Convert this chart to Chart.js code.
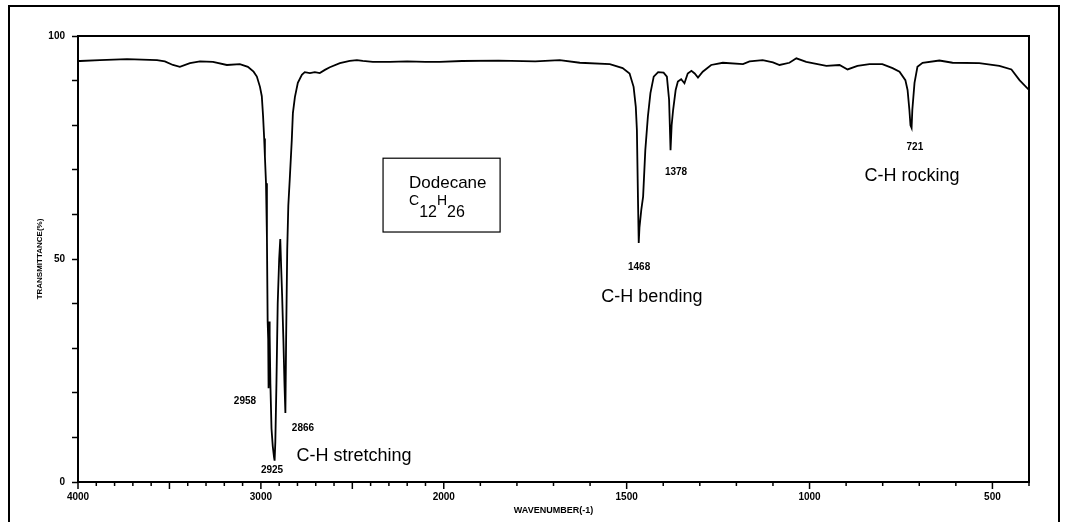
<!DOCTYPE html>
<html>
<head>
<meta charset="utf-8">
<script src="https://cdn.jsdelivr.net/npm/chart.js@4.4.1/dist/chart.umd.min.js"></script>
<style>
  body { margin: 0; background: #fff; }
  #wrap { position: relative; width: 1067px; height: 522px; overflow: hidden; }
  #myChart { display: block; }
  #frame { position: absolute; left: 8px; top: 5px; width: 1052px; height: 540px; border: 2px solid #000; box-sizing: border-box; pointer-events: none; }
</style>
</head>
<body>
<div id="wrap">
  <canvas id="myChart" width="1067" height="522"></canvas>
  <div id="frame"></div>
</div>
<script>
// IR spectrum of dodecane
const wavenumber = [
  4000, 3989, 3880, 3732, 3568, 3525, 3481, 3443, 3388, 3333, 3262, 3186, 3115, 3071, 3040, 3022,
  3005, 2995, 2988, 2982, 2978, 2972, 2967, 2963, 2960, 2958, 2955, 2952, 2948, 2942, 2935, 2928,
  2925, 2921, 2915, 2908, 2900, 2894, 2889, 2884, 2877, 2871, 2866, 2862, 2856, 2850, 2842, 2831,
  2825, 2814, 2798, 2776, 2760, 2732, 2705, 2678, 2650, 2623, 2568, 2514, 2475, 2443, 2388, 2295,
  2200, 2100, 2022, 1950, 1850, 1750, 1683, 1628, 1546, 1511, 1492, 1481, 1475, 1472, 1469, 1467,
  1465, 1460, 1455, 1449, 1442, 1435, 1426, 1414, 1399, 1390, 1384, 1380, 1377, 1373, 1366, 1360,
  1351, 1342, 1333, 1323, 1314, 1305, 1292, 1269, 1237, 1182, 1164, 1128, 1100, 1082, 1055, 1036,
  1009, 992, 954, 918, 896, 869, 836, 801, 773, 754, 738, 732, 727, 724, 721, 719,
  713, 705, 691, 645, 609, 536, 481, 448, 426, 400
];
const transmittance = [
  94.4, 94.4, 94.6, 94.8, 94.6, 94.3, 93.5, 93.1, 93.9, 94.3, 94.2, 93.5, 93.7, 93.1, 92.0, 90.9,
  88.6, 86.5, 82.0, 77.0, 73.0, 67.0, 55.0, 36.0, 32.0, 21.0, 36.0, 33.0, 22.0, 12.0, 8.0, 5.5,
  4.8, 9.0, 22.0, 40.0, 50.0, 54.5, 48.0, 42.0, 32.0, 22.0, 15.5, 32.0, 52.0, 62.0, 68.0, 76.7,
  82.7, 86.3, 89.5, 91.3, 91.9, 91.7, 91.9, 91.7, 92.4, 93.0, 93.9, 94.4, 94.6, 94.4, 94.2, 94.2,
  94.3, 94.2, 94.2, 94.4, 94.5, 94.3, 94.6, 94.0, 93.7, 92.8, 91.6, 88.6, 84.1, 78.9, 63.2, 53.6,
  57.0, 61.0, 64.0, 74.4, 81.9, 87.2, 90.9, 91.9, 91.8, 90.9, 85.7, 74.4, 80.0, 83.4, 87.9, 89.8,
  90.3, 89.4, 91.6, 92.2, 91.6, 90.7, 92.0, 93.5, 94.0, 93.7, 94.3, 94.6, 94.1, 93.5, 94.0, 95.0,
  94.2, 93.9, 93.3, 93.5, 92.5, 93.3, 93.7, 93.7, 92.8, 92.0, 90.1, 87.9, 83.4, 80.0, 79.4, 83.4,
  89.5, 93.1, 94.0, 94.5, 94.0, 93.9, 93.3, 92.5, 90.1, 87.9
];
const xLabelValues = [4000, 3000, 2000, 1500, 1000, 500];
const yLabelValues = [0, 50, 100];

// peak numbers and band names, placed in (wavenumber, %T)
const peakLabels = [
  { text: '2958', w: 3087, t: 18.2 },
  { text: '2866', w: 2770, t: 12.1 },
  { text: '2925', w: 2939, t: 2.7 },
  { text: '1468', w: 1466, t: 48.2 },
  { text: '1378', w: 1365, t: 69.5 },
  { text: '721', w: 712, t: 75.1 }
];
const bandLabels = [
  { text: 'C-H stretching', w: 2491, t: 5.8 },
  { text: 'C-H bending', w: 1431, t: 41.5 },
  { text: 'C-H rocking', w: 720, t: 68.6 }
];

// axis is compressed 2:1 above 2000 cm-1
const X_MAX = 4000, X_BREAK = 2000, X_MIN = 400;
function toSpan(v) {
  return v >= X_BREAK ? (X_MAX - v) / 2 : (X_MAX - X_BREAK) / 2 + (X_BREAK - v);
}
const SPAN = toSpan(X_MIN);

class WaveScale extends Chart.LinearScale {
  getPixelForValue(v) {
    return this.getPixelForDecimal(toSpan(v) / SPAN);
  }
  getValueForPixel(p) {
    const s = this.getDecimalForPixel(p) * SPAN;
    const half = (X_MAX - X_BREAK) / 2;
    return s <= half ? X_MAX - 2 * s : X_BREAK - (s - half);
  }
}
WaveScale.id = 'wave';
WaveScale.defaults = Chart.LinearScale.defaults;
Chart.register(WaveScale);

const smallFont = 'bold 10px "Liberation Sans"';

const irDecor = {
  id: 'irDecor',
  afterDraw(chart) {
    const { ctx, chartArea: a, scales: { x, y } } = chart;
    ctx.save();
    ctx.strokeStyle = '#000';
    ctx.fillStyle = '#000';
    ctx.lineWidth = 2;
    ctx.strokeRect(a.left, a.top, a.right - a.left, a.bottom - a.top);

    ctx.lineWidth = 1.5;
    x.ticks.forEach(t => {
      const px = x.getPixelForValue(t.value);
      const len = t.value % 500 === 0 ? 7 : 4;
      ctx.beginPath();
      ctx.moveTo(px, a.bottom);
      ctx.lineTo(px, a.bottom + len);
      ctx.stroke();
    });

    ctx.textAlign = 'center';
    ctx.textBaseline = 'middle';
    ctx.font = smallFont;
    peakLabels.forEach(l => ctx.fillText(l.text, x.getPixelForValue(l.w), y.getPixelForValue(l.t)));
    ctx.font = '18px "Liberation Sans"';
    bandLabels.forEach(l => ctx.fillText(l.text, x.getPixelForValue(l.w), y.getPixelForValue(l.t)));

    // compound box
    const bx0 = x.getPixelForValue(2332), bx1 = x.getPixelForValue(1846);
    const by0 = y.getPixelForValue(72.6), by1 = y.getPixelForValue(56.05);
    ctx.lineWidth = 1.2;
    ctx.strokeRect(bx0, by0, bx1 - bx0, by1 - by0);
    ctx.textAlign = 'left';
    ctx.textBaseline = 'alphabetic';
    const tx = x.getPixelForValue(2190);
    ctx.font = '17px "Liberation Sans"';
    ctx.fillText('Dodecane', tx, y.getPixelForValue(65.9));
    const base = y.getPixelForValue(62.0), sub = y.getPixelForValue(59.4);
    let cx = tx;
    [['C', base, 14], ['12', sub, 16], ['H', base, 14], ['26', sub, 16]].forEach(([s, by, fs]) => {
      ctx.font = fs + 'px "Liberation Sans"';
      ctx.fillText(s, cx, by);
      cx += ctx.measureText(s).width;
    });
    ctx.restore();
  }
};

const ctx = document.getElementById('myChart');

new Chart(ctx, {
  type: 'line',
  data: {
    datasets: [{
      data: wavenumber.map((w, i) => ({ x: w, y: transmittance[i] })),
      borderColor: '#000',
      borderWidth: 1.8,
      pointRadius: 0,
      tension: 0,
      fill: false
    }]
  },
  options: {
    responsive: false,
    animation: false,
    devicePixelRatio: 1,
    layout: { padding: { left: 30, right: 38, top: 36, bottom: 0 } },
    plugins: { legend: { display: false }, tooltip: { enabled: false } },
    scales: {
      x: {
        type: 'wave',
        min: X_MIN,
        max: X_MAX,
        afterFit: s => { s.height = 40; },
        afterBuildTicks: s => {
          const t = [];
          for (let v = X_MAX; v >= X_MIN; v -= 100) t.push({ value: v });
          s.ticks = t;
        },
        border: { display: false },
        grid: { drawOnChartArea: false, drawTicks: true, tickLength: 8, tickColor: 'rgba(0,0,0,0)' },
        ticks: {
          autoSkip: false,
          maxRotation: 0,
          padding: 1,
          color: '#000',
          font: { family: 'Liberation Sans', size: 10, weight: 'bold' },
          callback: v => xLabelValues.includes(v) ? String(v) : ''
        },
        title: {
          display: true,
          text: 'WAVENUMBER(-1)',
          color: '#000',
          font: { family: 'Liberation Sans', size: 9, weight: 'bold' },
          padding: { top: 0, bottom: 6 }
        }
      },
      y: {
        min: 0,
        max: 100,
        afterFit: s => { s.width = 48; },
        border: { display: false },
        grid: { drawOnChartArea: false, drawTicks: true, tickLength: 6, tickColor: '#000', tickWidth: 1.5 },
        ticks: {
          stepSize: 10,
          padding: 7,
          color: '#000',
          font: { family: 'Liberation Sans', size: 10, weight: 'bold' },
          callback: v => yLabelValues.includes(v) ? String(v) : ''
        },
        title: {
          display: true,
          text: 'TRANSMITTANCE(%)',
          color: '#000',
          font: { family: 'Liberation Sans', size: 8, weight: 'bold' },
          padding: { top: 5, bottom: 0 }
        }
      }
    }
  },
  plugins: [irDecor]
});
</script>
</body>
</html>
